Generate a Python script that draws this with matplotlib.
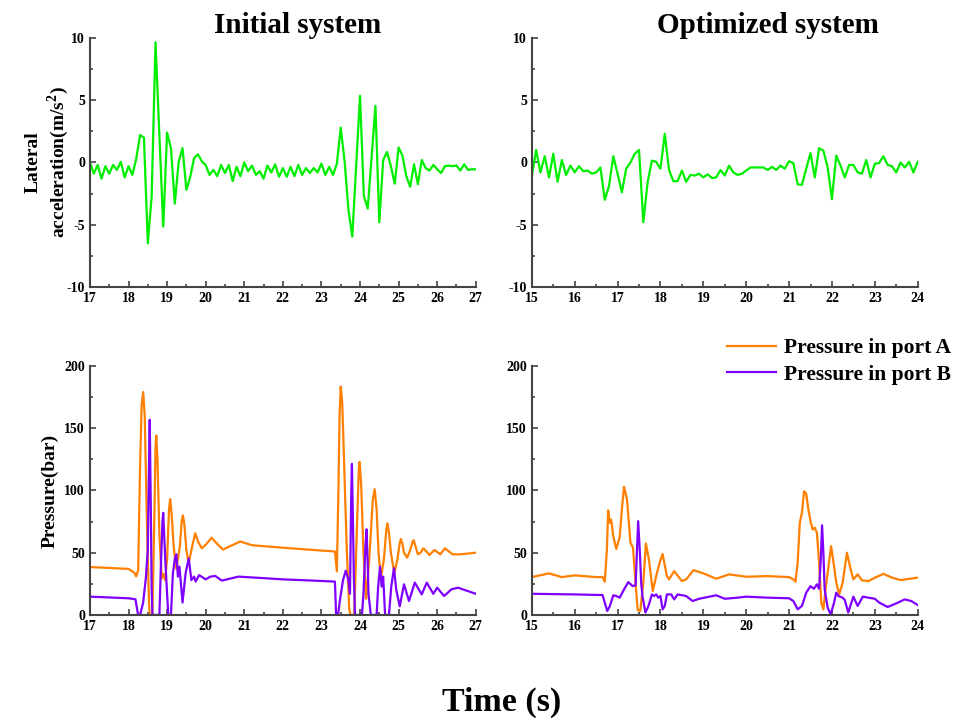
import numpy as np
import matplotlib
matplotlib.use("Agg")
import matplotlib.pyplot as plt
from matplotlib.ticker import MultipleLocator

plt.rcParams['font.family'] = ['Liberation Serif', 'DejaVu Serif']
plt.rcParams['font.weight'] = 'bold'
plt.rcParams['axes.unicode_minus'] = False
plt.rcParams['mathtext.fontset'] = 'custom'
plt.rcParams['mathtext.rm'] = 'Liberation Serif:bold'

GREEN = '#00ee00'
ORANGE = '#ff7f00'
PURPLE = '#7f00ff'

# lateral acceleration, sampled every 0.1 s
acc_initial = [0, -0.9, -0.2, -1.3, -0.3, -0.9, -0.2, -0.6, 0.05, -1.2,
               -0.3, -1.0, 0.3, 2.2, 2.0, -6.5, -2.7, 9.65, 2.2, -5.15,
               2.4, 1.15, -3.3, 0.05, 1.15, -2.2, -1.15, 0.35, 0.65, 0.1,
               -0.2, -1.0, -0.6, -1.1, -0.2, -0.85, -0.2, -1.5, -0.35, -1.1,
               0, -0.7, -0.25, -1.0, -0.7, -1.3, -0.25, -0.8, -0.15, -1.15,
               -0.45, -1.15, -0.35, -1.1, -0.2, -1.0, -0.45, -0.85, -0.45, -0.8,
               -0.1, -1.0, -0.35, -1.0, -0.1, 2.8, 0.1, -3.8, -5.95, -0.3,
               5.35, -2.7, -3.7, 0.4, 4.55, -4.8, 0.2, 0.85, -0.3, -1.7,
               1.2, 0.55, -1.1, -1.95, -0.15, -1.75, 0.2, -0.45, -0.65, -0.2,
               -0.55, -0.85, -0.3, -0.25, -0.3, -0.25, -0.65, -0.15, -0.6, -0.55,
               -0.55]
acc_optimized = [-1.1, 1.0, -0.8, 0.5, -1.2, 0.7, -1.55, 0.2, -1.0, -0.25,
                 -0.8, -0.3, -0.7, -0.65, -0.9, -0.8, -0.4, -3.0, -1.9, 0.5,
                 -0.9, -2.4, -0.5, 0.0, 0.7, 1.0, -4.8, -1.6, 0.15, 0.05,
                 -0.5, 2.3, -0.6, -1.5, -1.5, -0.65, -1.55, -1.0, -1.05, -0.9,
                 -1.2, -0.95, -1.25, -1.2, -0.6, -1.05, -0.25, -0.8, -1.0, -0.9,
                 -0.65, -0.4, -0.4, -0.4, -0.4, -0.6, -0.35, -0.6, -0.25, -0.5,
                 0.1, -0.05, -1.75, -1.8, -0.5, 0.75, -1.2, 1.15, 0.95, -0.4,
                 -2.95, 0.55, -0.25, -1.2, -0.2, -0.2, -0.8, -0.9, 0.2, -1.2,
                 -0.1, -0.05, 0.5, -0.2, -0.3, -0.8, 0.0, -0.4, 0.05, -0.8,
                 0.05]

# pressure (time s, bar)
press_a_initial = [(17.0, 38.5), (18.0, 37), (18.15, 34), (18.2, 31), (18.25, 36), (18.3, 120),
                   (18.34, 168), (18.38, 179), (18.42, 160), (18.48, 70), (18.53, 10), (18.55, 0),
                   (18.62, 0), (18.67, 80), (18.7, 135), (18.72, 144), (18.75, 125), (18.8, 65),
                   (18.86, 29.5), (18.9, 33), (18.95, 28), (19.0, 45), (19.05, 85), (19.08, 93),
                   (19.12, 80), (19.17, 55), (19.24, 37), (19.33, 55), (19.38, 76), (19.41, 80),
                   (19.45, 72), (19.5, 52), (19.56, 41.5), (19.65, 55), (19.73, 65.6), (19.8, 59),
                   (19.9, 53.5), (20.02, 57), (20.15, 62), (20.3, 57), (20.45, 52.5), (20.65, 55.5),
                   (20.9, 59), (21.2, 56), (22.0, 54), (23.0, 51.7), (23.35, 51), (23.4, 35),
                   (23.44, 100), (23.47, 160), (23.5, 183.4), (23.54, 170), (23.6, 110),
                   (23.66, 50), (23.72, 5), (23.75, 0), (23.85, 0), (23.92, 70), (23.97, 118),
                   (23.99, 123), (24.03, 105), (24.09, 50), (24.16, 13), (24.24, 45), (24.33, 92),
                   (24.38, 101), (24.43, 85), (24.48, 50), (24.54, 29.5), (24.62, 45), (24.68, 68),
                   (24.71, 73.6), (24.75, 66), (24.8, 50), (24.89, 33.5), (24.97, 45), (25.03, 58),
                   (25.06, 61), (25.1, 57), (25.14, 50), (25.22, 46), (25.3, 52), (25.36, 58.5),
                   (25.39, 60), (25.43, 56), (25.5, 48.7), (25.57, 50), (25.64, 53.5), (25.72, 51),
                   (25.8, 48.2), (25.93, 52.2), (26.08, 48.7), (26.2, 53.5), (26.4, 48.7),
                   (26.6, 48.7), (27.0, 50)]
press_b_initial = [(17.0, 14.7), (18.0, 13.4), (18.18, 12.6), (18.22, 5), (18.25, 0), (18.3, 0),
                   (18.38, 10), (18.45, 30), (18.5, 52), (18.53, 120), (18.55, 156.7), (18.58, 80),
                   (18.6, 20), (18.62, 0), (18.8, 0), (18.84, 40), (18.88, 75), (18.9, 82),
                   (18.93, 60), (18.96, 40), (19.03, 0), (19.1, 0), (19.15, 33.5), (19.2, 45),
                   (19.24, 48.7), (19.28, 30.8), (19.32, 38.8), (19.4, 10), (19.48, 33.5),
                   (19.56, 45.5), (19.63, 28), (19.7, 30.8), (19.74, 26.8), (19.83, 32), (20.0, 28.6),
                   (20.12, 30.8), (20.25, 31.3), (20.42, 27.6), (20.85, 30.8), (22.0, 28.6),
                   (23.0, 27.3), (23.35, 26.8), (23.38, 0), (23.43, 0), (23.48, 12), (23.56, 28),
                   (23.63, 35.6), (23.7, 28), (23.74, 17), (23.77, 90), (23.79, 121.3), (23.82, 70),
                   (23.84, 30), (23.87, 0), (24.05, 0), (24.09, 17), (24.14, 55), (24.17, 68.8),
                   (24.2, 40), (24.22, 17), (24.28, 0), (24.43, 0), (24.47, 22.8), (24.52, 38.8),
                   (24.56, 22.8), (24.6, 30.8), (24.65, 0), (24.75, 0), (24.81, 22.8), (24.88, 37.5),
                   (24.94, 20), (25.03, 7), (25.14, 24.6), (25.27, 11.2), (25.42, 26), (25.6, 16.5),
                   (25.73, 26), (25.9, 17), (26.0, 21.9), (26.18, 15.2), (26.37, 20.6), (26.54, 21.9),
                   (27.0, 17)]
press_a_optimized = [(15.0, 30.4), (15.4, 33.4), (15.7, 30.4), (16.0, 31.8), (16.5, 30.4), (16.65, 30.4),
                     (16.7, 26.7), (16.75, 52), (16.78, 84), (16.82, 74), (16.85, 76.6), (16.9, 63),
                     (16.97, 53), (17.05, 63), (17.1, 85), (17.15, 103), (17.22, 92.6), (17.3, 58),
                     (17.36, 54), (17.43, 20.5), (17.47, 4), (17.53, 3.2), (17.6, 26), (17.66, 57.4),
                     (17.73, 44.6), (17.82, 19.2), (17.9, 31.2), (17.98, 42), (18.05, 49), (18.1, 40),
                     (18.15, 31.2), (18.2, 28.6), (18.32, 35.2), (18.5, 27.2), (18.6, 28.6), (18.77, 36),
                     (19.0, 33.4), (19.3, 29.1), (19.6, 32.6), (20.0, 30.7), (20.5, 31.2), (21.0, 30.4),
                     (21.1, 28.6), (21.15, 26.7), (21.2, 42), (21.25, 74), (21.3, 82), (21.35, 99.3),
                     (21.4, 97.5), (21.45, 84.6), (21.5, 75.3), (21.55, 68.6), (21.6, 70), (21.65, 66),
                     (21.7, 42), (21.75, 10), (21.8, 4.5), (21.85, 20.5), (21.92, 39), (21.98, 55.3),
                     (22.05, 39), (22.1, 26), (22.17, 16.5), (22.25, 26), (22.35, 50), (22.42, 39),
                     (22.5, 28.6), (22.6, 32.6), (22.7, 27.8), (22.85, 27.2), (23.0, 29.9), (23.2, 33),
                     (23.4, 30), (23.6, 28), (24.0, 30)]
press_b_optimized = [(15.0, 17), (16.0, 16.5), (16.65, 16), (16.7, 9.9), (16.76, 3.2), (16.82, 7.2),
                     (16.9, 15.8), (16.97, 15.2), (17.05, 13.9), (17.15, 20.5), (17.25, 26.4), (17.35, 23.2),
                     (17.42, 23.8), (17.45, 50), (17.48, 75.3), (17.52, 50), (17.55, 26), (17.58, 15),
                     (17.65, 2), (17.72, 7.2), (17.8, 16.5), (17.85, 15.2), (17.9, 16.5), (17.95, 13.9),
                     (18.0, 15.2), (18.05, 4.5), (18.1, 7.2), (18.15, 16.5), (18.25, 16.5), (18.32, 12.5),
                     (18.4, 16.5), (18.6, 15.2), (18.75, 11.2), (18.9, 13), (19.3, 15.8), (19.5, 13),
                     (19.8, 13.9), (20.0, 14.7), (20.5, 13.9), (21.0, 13.4), (21.1, 11.2), (21.2, 4.5),
                     (21.3, 7.2), (21.4, 17.9), (21.5, 23.2), (21.58, 21), (21.65, 24.6), (21.7, 21),
                     (21.74, 45), (21.77, 72), (21.8, 50), (21.83, 20.5), (21.9, 5.9), (21.97, 0.5),
                     (22.05, 9.9), (22.1, 17.9), (22.15, 15.2), (22.25, 13.9), (22.3, 12), (22.38, 2),
                     (22.5, 14.7), (22.6, 7.2), (22.72, 14.7), (23.0, 13), (23.1, 10), (23.3, 6.4),
                     (23.5, 9.3), (23.7, 12.5), (23.85, 11.2), (24.0, 8)]


def style(ax, xlim, ylim, ystep):
    ax.set_xlim(*xlim)
    ax.set_ylim(*ylim)
    ax.xaxis.set_major_locator(MultipleLocator(1))
    ax.xaxis.set_minor_locator(MultipleLocator(0.5))
    ax.yaxis.set_major_locator(MultipleLocator(ystep))
    ax.yaxis.set_minor_locator(MultipleLocator(ystep / 2))
    for s in ['top', 'right']:
        ax.spines[s].set_visible(False)
    for s in ['left', 'bottom']:
        ax.spines[s].set_linewidth(1.5)
        ax.spines[s].set_color('#444444')
    ax.tick_params(which='both', direction='in', color='#444444', width=1.2, labelsize=10)
    ax.tick_params(which='major', length=4)
    ax.tick_params(which='minor', length=2.5)
    for lab in ax.get_xticklabels() + ax.get_yticklabels():
        lab.set_fontweight('bold')


def pressure(ax, a, b):
    ta, pa = zip(*a)
    tb, pb = zip(*b)
    ax.plot(ta, pa, color=ORANGE, lw=1.6, label='Pressure in port A')
    ax.plot(tb, pb, color=PURPLE, lw=1.6, label='Pressure in port B')


fig = plt.figure(figsize=(9.67, 7.24), dpi=100)
ax1 = fig.add_axes([0.093, 0.6036, 0.399, 0.344])
ax2 = fig.add_axes([0.550, 0.6036, 0.399, 0.344])
ax3 = fig.add_axes([0.093, 0.1506, 0.399, 0.344])
ax4 = fig.add_axes([0.550, 0.1506, 0.399, 0.344])

ax1.plot(np.linspace(17, 27, len(acc_initial)), acc_initial, color=GREEN, lw=1.6)
ax2.plot(np.linspace(15, 24, len(acc_optimized)), acc_optimized, color=GREEN, lw=1.6)
pressure(ax3, press_a_initial, press_b_initial)
pressure(ax4, press_a_optimized, press_b_optimized)

style(ax1, (17, 27), (-10, 10), 5)
style(ax2, (15, 24), (-10, 10), 5)
style(ax3, (17, 27), (0, 200), 50)
style(ax4, (15, 24), (0, 200), 50)

fig.text(0.308, 0.965, 'Initial system', ha='center', va='center', fontsize=21, fontweight='bold')
fig.text(0.794, 0.965, 'Optimized system', ha='center', va='center', fontsize=21, fontweight='bold')
ax1.set_ylabel('Lateral\nacceleration(m/s$^2$)', fontsize=14, fontweight='bold', labelpad=-3)
ax3.set_ylabel('Pressure(bar)', fontsize=14, fontweight='bold', labelpad=4)
fig.text(0.519, 0.03, 'Time (s)', ha='center', va='center', fontsize=24.5, fontweight='bold')

ax4.legend(loc='upper right', bbox_to_anchor=(0.992, 0.545), bbox_transform=fig.transFigure,
           frameon=False, prop={'size': 15.5, 'weight': 'bold'}, handlelength=2.3,
           handletextpad=0.35, labelspacing=0.3, borderaxespad=0)

fig.savefig('out.png', dpi=100)
